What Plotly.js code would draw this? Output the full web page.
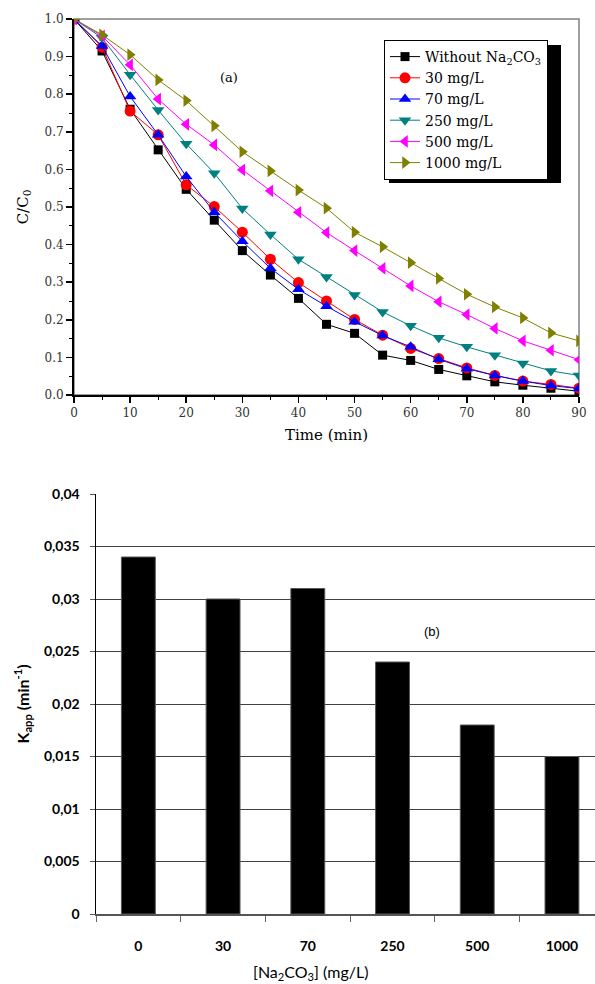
<!DOCTYPE html>
<html>
<head>
<meta charset="utf-8">
<script src="https://cdn.plot.ly/plotly-3.0.1.min.js"></script>
<style>
  html, body { margin: 0; padding: 0; background: #ffffff; overflow: hidden; }
  #chart { width: 595px; height: 984px; }
</style>
</head>
<body>
<div id="chart"></div>
<script>
// ---- Data: panel (a) ----
const timeMin = [0, 5, 10, 15, 20, 25, 30, 35, 40, 45, 50, 55, 60, 65, 70, 75, 80, 85, 90];
const seriesNames = ["Without Na<sub>2</sub>CO<sub>3</sub>", "30 mg/L", "70 mg/L", "250 mg/L", "500 mg/L", "1000 mg/L"];
const withoutNa2CO3 = [1.0, 0.915, 0.76, 0.652, 0.547, 0.465, 0.384, 0.319, 0.257, 0.188, 0.164, 0.106, 0.092, 0.068, 0.051, 0.035, 0.026, 0.018, 0.010];
const c30 = [1.0, 0.925, 0.755, 0.692, 0.559, 0.501, 0.433, 0.361, 0.299, 0.250, 0.201, 0.159, 0.124, 0.097, 0.072, 0.052, 0.037, 0.028, 0.018];
const c70 = [1.0, 0.928, 0.794, 0.692, 0.581, 0.486, 0.409, 0.337, 0.281, 0.236, 0.195, 0.158, 0.128, 0.095, 0.070, 0.052, 0.037, 0.025, 0.017];
const c250 = [1.0, 0.950, 0.852, 0.758, 0.668, 0.590, 0.496, 0.427, 0.361, 0.314, 0.266, 0.221, 0.184, 0.152, 0.128, 0.106, 0.084, 0.064, 0.052];
const c500 = [1.0, 0.955, 0.878, 0.787, 0.720, 0.665, 0.599, 0.543, 0.486, 0.432, 0.384, 0.337, 0.290, 0.248, 0.214, 0.177, 0.144, 0.119, 0.094];
const c1000 = [1.0, 0.958, 0.905, 0.838, 0.783, 0.716, 0.647, 0.596, 0.545, 0.497, 0.433, 0.394, 0.352, 0.310, 0.268, 0.234, 0.205, 0.165, 0.144];

// ---- Data: panel (b) ----
const na2co3Conc = ["0", "30", "70", "250", "500", "1000"];
const kApp = [0.034, 0.030, 0.031, 0.024, 0.018, 0.015];
const kTickVals = [0, 0.005, 0.01, 0.015, 0.02, 0.025, 0.03, 0.035, 0.04];
const kTickText = ["0", "0,005", "0,01", "0,015", "0,02", "0,025", "0,03", "0,035", "0,04"];

// ---- Styles ----
const serif = "DejaVu Serif";
const sans = "Lato";
const lineSeries = [
  { y: withoutNa2CO3, color: "#000000", symbol: "square", size: 9 },
  { y: c30, color: "#ff0000", symbol: "circle", size: 11 },
  { y: c70, color: "#0000ff", symbol: "triangle-up", size: 11 },
  { y: c250, color: "#008080", symbol: "triangle-down", size: 11 },
  { y: c500, color: "#ff00ff", symbol: "triangle-left", size: 11 },
  { y: c1000, color: "#808000", symbol: "triangle-right", size: 11 }
];

const traces = lineSeries.map((s, i) => ({
  type: "scatter",
  mode: "lines+markers",
  x: timeMin,
  y: s.y,
  name: seriesNames[i],
  xaxis: "x",
  yaxis: "y",
  line: { color: s.color, width: 1 },
  marker: { color: s.color, symbol: s.symbol, size: s.size, line: { width: 0 } },
  showlegend: true
}));

traces.push({
  type: "bar",
  x: na2co3Conc,
  y: kApp,
  xaxis: "x2",
  yaxis: "y2",
  width: 0.4,
  marker: { color: "#000000", line: { color: "#555555", width: 1 } },
  showlegend: false
});

const W = 595, H = 984;
const px = v => v / W;
const py = v => 1 - v / H;

const layout = {
  width: W,
  height: H,
  margin: { l: 0, r: 0, t: 0, b: 0 },
  paper_bgcolor: "#ffffff",
  plot_bgcolor: "rgba(0,0,0,0)",
  showlegend: true,
  legend: {
    x: px(384), y: py(40), xanchor: "left", yanchor: "top",
    bgcolor: "#ffffff", bordercolor: "#000000", borderwidth: 1,
    font: { family: serif, size: 14, color: "#000000" },
    tracegroupgap: 0, itemwidth: 30
  },
  xaxis: {
    domain: [px(74), px(579)],
    anchor: "y",
    range: [0, 90],
    tickvals: [0, 10, 20, 30, 40, 50, 60, 70, 80, 90],
    ticks: "outside", ticklen: 6, tickwidth: 1.5, tickcolor: "#000000",
    minor: { ticks: "outside", ticklen: 3, tickwidth: 1, tickcolor: "#000000", dtick: 5 },
    showline: true, linecolor: "#000000", linewidth: 2,
    showgrid: false, zeroline: false,
    tickfont: { family: serif, size: 12, color: "#333333" },
    title: { text: "Time (min)", font: { family: serif, size: 15, color: "#000000" }, standoff: 10 }
  },
  yaxis: {
    domain: [py(395), py(19)],
    anchor: "x",
    range: [0, 1.0],
    dtick: 0.1, tickformat: ".1f",
    ticks: "outside", ticklen: 6, tickwidth: 1.5, tickcolor: "#000000",
    minor: { ticks: "outside", ticklen: 3, tickwidth: 1, tickcolor: "#000000", dtick: 0.05 },
    showline: true, linecolor: "#000000", linewidth: 2,
    showgrid: false, zeroline: false,
    tickfont: { family: serif, size: 12, color: "#333333" },
    title: { text: "C/C<sub>0</sub>", font: { family: serif, size: 15, color: "#000000" }, standoff: 12 }
  },
  xaxis2: {
    domain: [px(96), 1],
    anchor: "y2",
    type: "category",
    range: [-0.5, 5.39],
    ticks: "outside", tickson: "boundaries", ticklen: 6, tickwidth: 1, tickcolor: "#666666",
    ticklabelstandoff: 19,
    showline: true, linecolor: "#555555", linewidth: 1.5,
    showgrid: false, zeroline: false,
    tickfont: { family: sans, size: 14, color: "#000000", weight: "bold" }
  },
  yaxis2: {
    domain: [py(914), py(494)],
    anchor: "x2",
    range: [0, 0.04],
    tickvals: kTickVals, ticktext: kTickText,
    ticks: "outside", ticklen: 5, tickwidth: 1, tickcolor: "#555555",
    ticklabelstandoff: 7,
    showline: true, linecolor: "#000000", linewidth: 1.5,
    showgrid: true, gridcolor: "#404040", gridwidth: 1,
    zeroline: false,
    tickfont: { family: sans, size: 14, color: "#000000", weight: "bold" },
    title: { text: "K<sub>app</sub> (min<sup>-1</sup>)", font: { family: sans, size: 16, color: "#000000", weight: "bold" }, standoff: 10 }
  },
  shapes: [
    { type: "rect", xref: "x domain", yref: "y domain", x0: 0, x1: 1, y0: 0, y1: 1,
      line: { color: "#808080", width: 1.5 }, layer: "below" },
    { type: "rect", xref: "paper", yref: "paper", x0: px(389), x1: px(561), y0: py(183), y1: py(45),
      fillcolor: "#000000", line: { width: 0 }, layer: "above" }
  ],
  annotations: [
    { text: "(a)", xref: "x", yref: "y", x: 27.6, y: 0.845, showarrow: false,
      font: { family: serif, size: 13, color: "#000000" } },
    { text: "(b)", xref: "x2 domain", yref: "y2 domain", x: 0.694, y: 0.696, showarrow: false,
      font: { family: "Liberation Sans Narrow, Liberation Sans", size: 13, color: "#000000" } },
    { text: "[Na<sub>2</sub>CO<sub>3</sub>] (mg/L)", xref: "paper", yref: "paper", x: px(310), y: py(972),
      xanchor: "center", yanchor: "middle", showarrow: false,
      font: { family: sans, size: 16, color: "#000000" } }
  ]
};

Plotly.newPlot("chart", traces, layout, { staticPlot: true, displayModeBar: false });
</script>
</body>
</html>
